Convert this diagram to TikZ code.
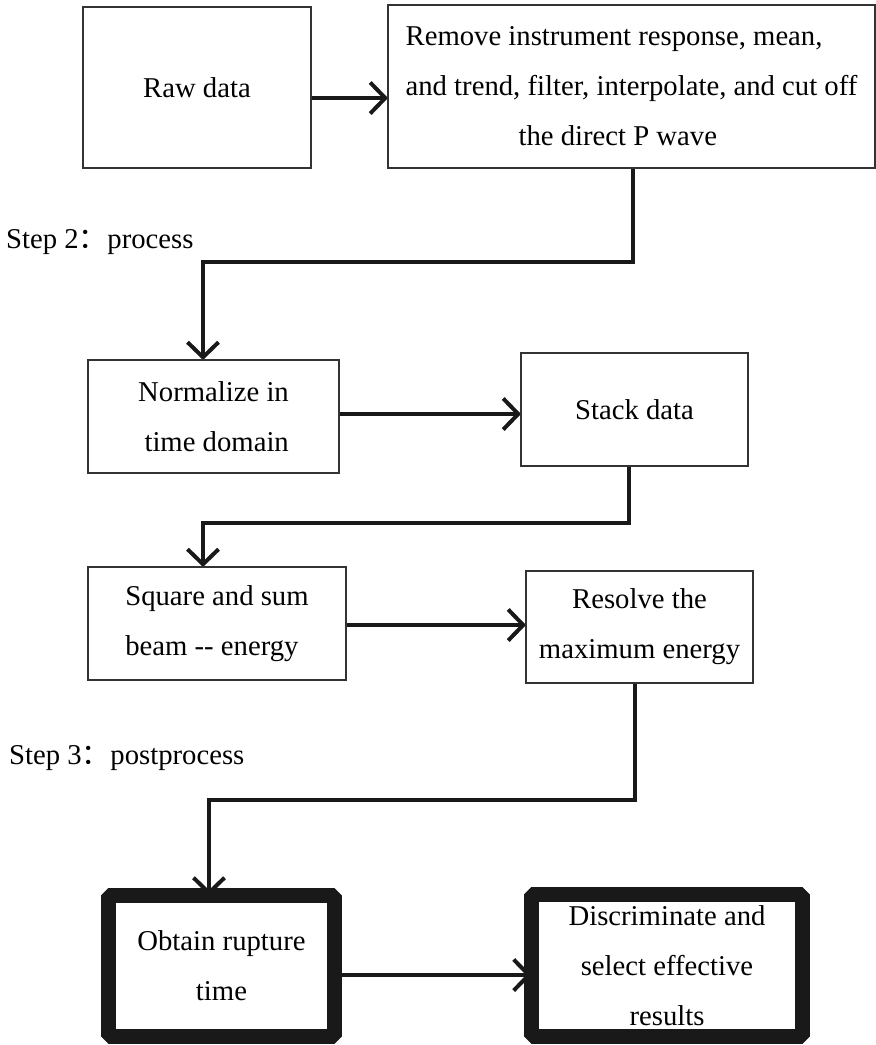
\documentclass[tikz,border=0pt]{standalone}
\usepackage{fontspec}
\setmainfont{Liberation Serif}
\newfontfamily\cjk{Noto Sans CJK SC}
\usetikzlibrary{arrows.meta, backgrounds}
\tikzstyle{stage} = [rectangle, draw=black!80, line width=1.2pt, align=center, inner sep=0pt, outer sep=0pt, font=\fontsize{28.7}{50}\selectfont]
\tikzstyle{result} = [rectangle, draw=black!90, line width=15pt, line join=bevel, align=center, inner sep=0pt, outer sep=0pt, font=\fontsize{28.7}{50}\selectfont]
\tikzstyle{steplabel} = [anchor=base west, inner sep=0pt, font=\fontsize{28.7}{34}\selectfont]
\tikzstyle{arrow} = [line width=4pt, black!90, -{Straight Barb[length=15pt, width=31pt]}]

\begin{document}
\begin{tikzpicture}[x=1pt, y=-1pt]
			\useasboundingbox (0,0) rectangle (876,1045);
			% Nodes
			\node (raw) [stage, minimum width=228pt, minimum height=161pt] at (197,87.5) {Raw data};
			\node (remove) [stage, align=left, minimum width=487pt, minimum height=163pt] at (631.5,86.5) {Remove instrument response, mean,\\ and trend, filter, interpolate, and cut off\\ \hspace*{113pt}the direct P wave};
			\node (step2) [steplabel] at (6,248) {Step 2{\cjk ：}process};
			\node (norm) [stage, align=right, minimum width=251pt, minimum height=113pt] at (213.5,416.5) {Normalize in\\ time domain};
			\node (stack) [stage, minimum width=227pt, minimum height=113pt] at (634.5,409.5) {Stack data};
			\node (square) [stage, align=left, minimum width=258pt, minimum height=113pt] at (217,623.5) {Square and sum\\ beam -\/- energy};
			\node (resolve) [stage, minimum width=227pt, minimum height=112pt] at (639.5,627) {Resolve the\\ maximum energy};
			\node (step3) [steplabel] at (9,764) {Step 3{\cjk ：}postprocess};
			\node (obtain) [result, minimum width=226pt, minimum height=141pt] at (221.5,966) {Obtain rupture\\ time};
			\node (discr) [result, minimum width=271pt, minimum height=142pt] at (667,965.5) {Discriminate and\\ select effective\\ results};

			% Arrows
			\begin{pgfonlayer}{background}
			\draw [arrow] ([yshift=-10.5pt]raw.east) -- ([yshift=-10.5pt]raw.east -| remove.west);
			\draw [arrow] ([xshift=1.5pt]remove.south) -- ++(0,94) -| ([xshift=-10.5pt]norm.north);
			\draw [arrow] ([yshift=2.5pt]norm.east) -- ([yshift=2.5pt]norm.east -| stack.west);
			\draw [arrow] ([xshift=-5.5pt]stack.south) -- ++(0,57) -| ([xshift=-14pt]square.north);
			\draw [arrow] ([yshift=-1.5pt]square.east) -- ([yshift=-1.5pt]square.east -| resolve.west);
			\draw [arrow] ([xshift=-4.5pt]resolve.south) -- ++(0,117) -| ([xshift=-12.5pt]obtain.north);
			\draw [arrow] ([yshift=-9pt]obtain.east) -- ([yshift=-9pt]obtain.east -| discr.west);
			\end{pgfonlayer}
		\end{tikzpicture}
\end{document}
